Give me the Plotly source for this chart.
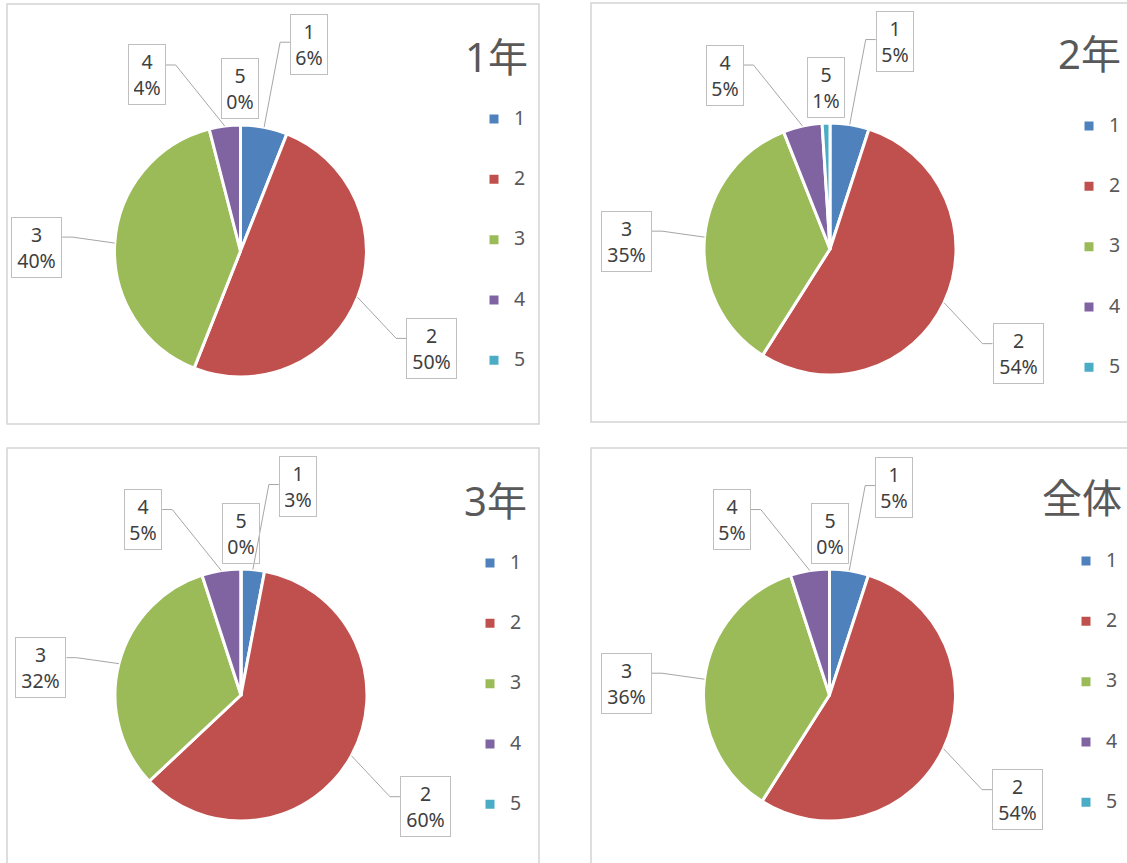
import math
import plotly.graph_objects as go

W, H = 1127, 863

# ---------------- data ----------------
categories = ["1", "2", "3", "4", "5"]
group_titles = ["1年", "2年", "3年", "全体"]
pct_1nen = [6, 50, 40, 4, 0]
pct_2nen = [5, 54, 35, 5, 1]
pct_3nen = [3, 60, 32, 5, 0]
pct_zentai = [5, 54, 36, 5, 0]
series = [pct_1nen, pct_2nen, pct_3nen, pct_zentai]

# ---------------- style / layout ----------------
colors = ["#4F81BD", "#C0504D", "#9BBB59", "#8064A2", "#4BACC6"]
FONT = "Noto Sans, Noto Sans CJK JP, sans-serif"
TEXT_COLOR = "#404040"
TITLE_COLOR = "#595959"

# pixel geometry of each panel
panels = [
    dict(cx=240.5, cy=251, r=126, frame=(7, 4, 539, 424), title=(463, 56), legend=(494, 119)),
    dict(cx=830, cy=249, r=126, frame=(591, 3, 1150, 422), title=(1056, 53), legend=(1089, 126)),
    dict(cx=241, cy=695, r=126, frame=(7, 448, 539, 900), title=(462, 500), legend=(490, 563)),
    dict(cx=829.5, cy=695, r=126, frame=(591, 448, 1150, 900), title=(1040, 498), legend=(1086, 561)),
]
# data-label box offsets from slice anchor (pixels), per category
label_dx = [45, 74, -78, -78, 0]
label_dy = [-83, 51, 4, -51, -36]
leader_dy = [-2, -10, -10, -10, None]   # None -> no leader line
ELBOW = 10
LEGEND_ITEM_FONT = 14.7
LABEL_FONT = 19.5


def fx(x):
    return x / W


def fy(y):
    return 1 - y / H


fig = go.Figure()
shapes = []
annotations = []

for i, (title, vals, P) in enumerate(zip(group_titles, series, panels)):
    cx, cy, r = P["cx"], P["cy"], P["r"]
    lg = "legend" if i == 0 else f"legend{i + 1}"

    # panel frame
    x0, y0, x1, y1 = P["frame"]
    shapes.append(dict(type="rect", xref="paper", yref="paper",
                       x0=fx(x0), x1=fx(x1), y0=fy(y1), y1=fy(y0),
                       line=dict(color="#D4D4D4", width=1.5), layer="below"))

    pad = "&nbsp;" * (i + 1)
    fig.add_trace(go.Pie(
        labels=[f'&nbsp;<br><span style="font-size:{LABEL_FONT}px">{c}</span><br>{pad}' for c in categories],
        values=vals,
        sort=False, direction="clockwise", rotation=0,
        marker=dict(colors=colors, line=dict(color="white", width=3)),
        textinfo="none", hoverinfo="skip",
        domain=dict(x=[fx(cx - r), fx(cx + r)], y=[fy(cy + r), fy(cy - r)]),
        legend=lg, legendgroup=f"g{i}", name=title, showlegend=True,
    ))

    lx, ly = P["legend"]
    fig.update_layout(**{lg: dict(
        x=fx(lx - 20), xanchor="left", y=fy(ly - 35.2), yanchor="top",
        font=dict(size=LEGEND_ITEM_FONT, color=TITLE_COLOR, family=FONT),
        bgcolor="rgba(0,0,0,0)", borderwidth=0,
    )})

    # title
    tx, ty = P["title"]
    annotations.append(dict(text=title, x=fx(tx), y=fy(ty), xref="paper", yref="paper",
                            xanchor="left", yanchor="middle", showarrow=False,
                            font=dict(size=40, color=TITLE_COLOR, family=FONT)))

    # data labels with leader lines
    total = sum(vals)
    cum = 0
    for k, (cat, v) in enumerate(zip(categories, vals)):
        mid = (cum + v / 2) / total * 2 * math.pi
        cum += v
        axp = cx + r * math.sin(mid)
        ayp = cy - r * math.cos(mid)
        bx = axp + label_dx[k]
        by = ayp + label_dy[k]
        pct = f"{round(v / total * 100)}%"
        wtxt = 26 if len(pct) <= 2 else 39
        half = wtxt / 2 + 6
        annotations.append(dict(text=f"{cat}<br>{pct}", x=fx(bx), y=fy(by),
                                xref="paper", yref="paper", xanchor="center", yanchor="middle",
                                showarrow=False, width=wtxt, height=49, align="center",
                                bordercolor="#BFBFBF", borderwidth=1, borderpad=5,
                                font=dict(size=LABEL_FONT, color=TEXT_COLOR, family=FONT)))
        if leader_dy[k] is not None:
            side = bx - half if label_dx[k] > 0 else bx + half
            elbow = side - ELBOW if label_dx[k] > 0 else side + ELBOW
            ly_ = by + leader_dy[k]
            path = (f"M {fx(side)},{fy(ly_)} L {fx(elbow)},{fy(ly_)} "
                    f"L {fx(axp)},{fy(ayp)}")
            shapes.append(dict(type="path", xref="paper", yref="paper", path=path,
                               line=dict(color="#A6A6A6", width=1)))

fig.update_layout(
    width=W, height=H,
    margin=dict(l=0, r=0, t=0, b=0, autoexpand=False),
    paper_bgcolor="white", plot_bgcolor="white",
    shapes=shapes, annotations=annotations,
    font=dict(family=FONT, color=TEXT_COLOR),
)

fig.write_html(
    "out.html",
    config={"displayModeBar": False},
    post_script="document.body.style.margin='0';document.body.style.overflow='hidden';",
)
